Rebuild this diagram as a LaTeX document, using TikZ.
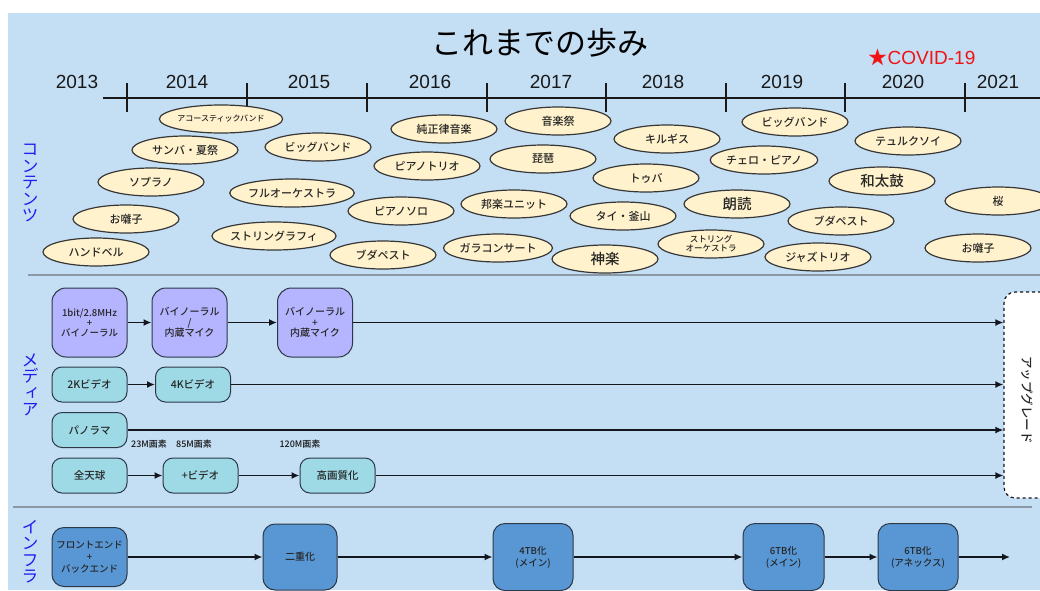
\documentclass[tikz,border=0pt]{standalone}
\usepackage{fontspec}
\setmainfont{Liberation Sans}
\newfontfamily\jp{Noto Sans CJK JP}
\newfontfamily\jpm{Noto Sans CJK JP Medium}
\newfontfamily\jpv[RawFeature=+vert]{Noto Sans CJK JP}
\usetikzlibrary{shapes.geometric,arrows.meta}
\definecolor{bgblue}{RGB}{196,222,244}
\definecolor{cream}{RGB}{255,242,204}
\definecolor{ellline}{RGB}{55,55,55}
\definecolor{purp}{RGB}{180,180,255}
\definecolor{cyanb}{RGB}{157,218,230}
\definecolor{infrab}{RGB}{88,151,212}
\definecolor{boxline}{RGB}{45,55,70}
\definecolor{arrowc}{RGB}{20,22,30}
\definecolor{secblue}{RGB}{30,30,240}
\definecolor{divider}{RGB}{140,152,165}
\definecolor{covid}{RGB}{240,20,20}
\tikzset{
  ell/.style={ellipse, draw=ellline, fill=cream, line width=1.2pt, minimum width=106pt,
    minimum height=28pt, inner sep=0pt, align=center, text=black!85,
    font=\jpm\fontsize{11}{12}\selectfont},
  big/.style={font=\jpm\fontsize{14.5}{15}\selectfont},
  tiny/.style={font=\jpm\fontsize{8}{9}\selectfont},
  pbox/.style={rectangle, rounded corners=14pt, draw=boxline, fill=purp, line width=1pt,
    minimum width=75pt, minimum height=69pt, inner sep=1pt, align=center, text=black!85,
    font=\jpm\fontsize{10}{10.5}\selectfont},
  cbox/.style={rectangle, rounded corners=10pt, draw=boxline, fill=cyanb, line width=1pt,
    minimum width=75pt, minimum height=35pt, inner sep=1pt, align=center, text=black!85,
    font=\jpm\fontsize{10.5}{11}\selectfont},
  ibox/.style={rectangle, rounded corners=12pt, draw=boxline, fill=infrab, line width=1pt,
    minimum height=67pt, inner sep=1pt, align=center, text=black!85,
    font=\jpm\fontsize{9.5}{12}\selectfont},
  arr/.style={-{Latex[length=8pt,width=7pt]}, line width=1.8pt, draw=arrowc},
  iarr/.style={-{Latex[length=8pt,width=7pt]}, line width=1.5pt, draw=arrowc},
  year/.style={font=\fontsize{19}{20}\selectfont, text=black!90},
  seclabel/.style={text=secblue, font=\jpv\fontsize{17}{16.5}\selectfont, align=center, inner sep=0pt},
  pix/.style={font=\jpm\fontsize{9}{10}\selectfont, text=black!90},
  tick/.style={line width=2pt, draw=black!90},
  divline/.style={line width=1.5pt, draw=divider}
}
\begin{document}
\begin{tikzpicture}[x=1pt,y=-1pt]
\useasboundingbox (0,0) rectangle (1040,590);
\clip (0,0) rectangle (1040,590);
\fill[white] (0,0) rectangle (1040,590);
\fill[bgblue] (8,13) rectangle (1040,590);

% title
\node (title) at (540,43) {\jp\fontsize{31}{31}\selectfont これまでの歩み};
\node[text=covid, font=\fontsize{19}{20}\selectfont] (covid) at (922,57) {{\jp★}COVID-19};

% timeline
\coordinate (tl0) at (103,98);
\coordinate (tl1) at (1040,98);
\draw[tick] (tl0) -- (tl1);
\foreach \x [count=\i] in {127,247,367,487,606,726,845,965}{
  \coordinate (tka\i) at (\x,83);
  \coordinate (tkb\i) at (\x,112);
  \draw[tick] (tka\i) -- (tkb\i);
}
\node[year] (y2013) at (77,82) {2013};
\node[year] (y2014) at (187,82) {2014};
\node[year] (y2015) at (309,82) {2015};
\node[year] (y2016) at (430,82) {2016};
\node[year] (y2017) at (551,82) {2017};
\node[year] (y2018) at (663,82) {2018};
\node[year] (y2019) at (782,82) {2019};
\node[year] (y2020) at (903,82) {2020};
\node[year] (y2021) at (998,82) {2021};

% dividers
\coordinate (d1a) at (28,275); \coordinate (d1b) at (1040,275);
\coordinate (d2a) at (13,507); \coordinate (d2b) at (1032,507);
\draw[divline] (d1a) -- (d1b);
\draw[divline] (d2a) -- (d2b);

% section labels
\node[seclabel] (lcont) at (30,183) {コ\\ン\\テ\\ン\\ツ};
\node[seclabel] (lmedia) at (30,385) {メ\\デ\\ィ\\ア};
\node[seclabel, anchor=north] (linfra) at (30,520) {イ\\ン\\フ\\ラ};

% contents ellipses
\node[ell, tiny] (e1) at (221,119) {アコースティックバンド};
\node[ell] (e2) at (185,150) {サンバ・夏祭};
\node[ell] (e3) at (151,182) {ソプラノ};
\node[ell] (e4) at (126,219) {お囃子};
\node[ell] (e5) at (96,252) {ハンドベル};
\node[ell] (e6) at (318,147) {ビッグバンド};
\node[ell] (e7) at (292,193) {フルオーケストラ};
\node[ell] (e8) at (274,236) {ストリングラフィ};
\node[ell] (e9) at (444,129) {純正律音楽};
\node[ell] (e10) at (427,166) {ピアノトリオ};
\node[ell] (e11) at (401,211) {ピアノソロ};
\node[ell] (e12) at (383,255) {ブダペスト};
\node[ell] (e13) at (558,121) {音楽祭};
\node[ell] (e14) at (543,159) {琵琶};
\node[ell] (e15) at (514,204) {邦楽ユニット};
\node[ell] (e16) at (498,248) {ガラコンサート};
\node[ell] (e17) at (667,139) {キルギス};
\node[ell] (e18) at (646,178) {トゥバ};
\node[ell] (e19) at (623,216) {タイ・釜山};
\node[ell, big] (e20) at (605,259) {神楽};
\node[ell] (e21) at (795,122) {ビッグバンド};
\node[ell] (e22) at (764,160) {チェロ・ピアノ};
\node[ell, big] (e23) at (737,204) {朗読};
\node[ell, font=\jpm\fontsize{8.5}{9}\selectfont] (e24) at (711,244) {ストリング\\オーケストラ};
\node[ell] (e25) at (818,257) {ジャズトリオ};
\node[ell] (e26) at (841,221) {ブダペスト};
\node[ell] (e27) at (908,141) {テュルクソイ};
\node[ell, big] (e28) at (882,181) {和太鼓};
\node[ell] (e29) at (998,201) {桜};
\node[ell] (e30) at (978,248) {お囃子};

% upgrade box
\node[rectangle, rounded corners=11pt, draw=arrowc, dashed, line width=1.2pt, fill=white,
  minimum width=60pt, minimum height=206pt] (up) at (1034,395) {};
\node[rotate=-90, font=\jpm\fontsize{12.5}{13}\selectfont, text=black!85] (uptext) at (1027,400) {アップグレード};

% media
\node[pbox, font=\jpm\fontsize{9.5}{10}\selectfont] (p1) at (89.5,322.5) {1bit/2.8MHz\\+\\バイノーラル};
\node[pbox] (p2) at (189.5,322.5) {バイノーラル\\/\\内蔵マイク};
\node[pbox] (p3) at (315,322.5) {バイノーラル\\+\\内蔵マイク};
\draw[arr] (p1) -- (p2);
\draw[arr] (p2) -- (p3);
\draw[arr] (p3.east) -- (up.west |- p3.east);

\node[cbox] (c1) at (89.5,384.5) {2Kビデオ};
\node[cbox] (c2) at (193,384.5) {4Kビデオ};
\draw[arr] (c1) -- (c2);
\draw[arr] (c2.east) -- (up.west |- c2.east);

\node[cbox] (c3) at (89.5,430) {パノラマ};
\draw[arr] (c3.east) -- (up.west |- c3.east);
\node[pix] (px1) at (149,444) {23M画素};
\node[pix] (px2) at (194,444) {85M画素};
\node[pix] (px3) at (300,444) {120M画素};

\node[cbox] (c4) at (89.5,475.5) {全天球};
\node[cbox] (c5) at (200.5,475.5) {+ビデオ};
\node[cbox] (c6) at (337.5,475.5) {高画質化};
\draw[arr] (c4) -- (c5);
\draw[arr] (c5) -- (c6);
\draw[arr] (c6.east) -- (up.west |- c6.east);

% infra
\node[ibox, minimum width=75pt, minimum height=59pt] (i1) at (89.5,557) {フロントエンド\\+\\バックエンド};
\node[ibox, minimum width=74pt, minimum height=66pt, font=\jpm\fontsize{10}{12}\selectfont] (i2) at (300,557) {二重化};
\node[ibox, minimum width=80pt] (i3) at (533,557) {4TB化\\(メイン)};
\node[ibox, minimum width=81pt] (i4) at (783.5,557) {6TB化\\(メイン)};
\node[ibox, minimum width=80pt] (i5) at (918,557) {6TB化\\(アネックス)};
\coordinate (iend) at (1010,557);
\draw[iarr] (i1) -- (i2);
\draw[iarr] (i2) -- (i3);
\draw[iarr] (i3) -- (i4);
\draw[iarr] (i4) -- (i5);
\draw[iarr] (i5) -- (iend);
\end{tikzpicture}
\end{document}
